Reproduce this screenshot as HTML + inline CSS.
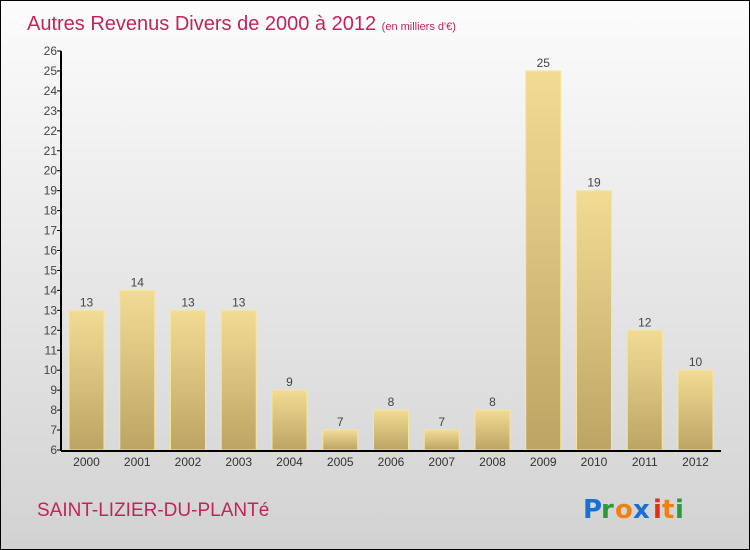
<!DOCTYPE html>
<html><head><meta charset="utf-8"><style>
html,body{margin:0;padding:0}
body{width:750px;height:550px;overflow:hidden;font-family:"Liberation Sans",sans-serif}
#wrap{position:relative;width:748px;height:548px;border:1px solid #000;background:linear-gradient(#fcfcfc,#d2d2d2)}
</style></head><body>
<div id="wrap">
<svg id="chart" width="748" height="548" style="position:absolute;left:0;top:0">
<defs><linearGradient id="bg" x1="0" y1="0" x2="0" y2="1"><stop offset="0" stop-color="#f2dc94"/><stop offset="1" stop-color="#bca564"/></linearGradient></defs>
<text x="26" y="29" font-size="20" fill="#c0245c">Autres Revenus Divers de 2000 à 2012 <tspan font-size="11">(en milliers d'€)</tspan></text>
<text x="36" y="515" font-size="19" fill="#c0245c">SAINT-LIZIER-DU-PLANTé</text>
<g font-size="26" font-weight="bold" font-family="'DejaVu Sans',sans-serif">
<text x="582" y="517" fill="#1a6fd0">P</text><text x="600" y="517" fill="#2a9a3a">r</text><text x="614" y="517" fill="#f08010">o</text><text x="632" y="517" fill="#1a6fd0">x</text><text x="652" y="517" fill="#e03010">i</text><text x="661" y="517" fill="#f08010">t</text><text x="674" y="517" fill="#2a9a3a">i</text></g>
<g id="plot"></g>
</svg>
</div>
<script>
const categories=["2000","2001","2002","2003","2004","2005","2006","2007","2008","2009","2010","2011","2012"];
const values=[13,14,13,13,9,7,8,7,8,25,19,12,10];
const yTicks=[6,7,8,9,10,11,12,13,14,15,16,17,18,19,20,21,22,23,24,25,26];
const NS="http://www.w3.org/2000/svg";
const plotG=document.getElementById('plot');
const yMin=6,yMax=26,plotTop=50,plotBot=449,axX=60;
const yS=v=>plotBot-(v-yMin)/(yMax-yMin)*(plotBot-plotTop);
const xS=i=>85.5+i*50.75;
function mk(t,a){const e=document.createElementNS(NS,t);for(const k in a)e.setAttribute(k,a[k]);plotG.appendChild(e);return e;}
values.forEach((v,i)=>{
 const r=mk('rect',{x:xS(i)-17.5,y:yS(v),width:35,height:plotBot-yS(v),fill:'url(#bg)',stroke:'#f6e69a','stroke-width':1});
 
 
 const t=mk('text',{x:xS(i),y:yS(v)-4,'text-anchor':'middle','font-size':12,fill:'#444'});t.textContent=v;
 
 
 const c=mk('text',{x:xS(i),y:plotBot+16,'text-anchor':'middle','font-size':12,fill:'#333'});c.textContent=categories[i];
 
 
});
yTicks.forEach(v=>{
 mk('line',{x1:axX-4,x2:axX,y1:yS(v),y2:yS(v),stroke:'#000'});
 const t=mk('text',{x:axX-4,y:yS(v)+4,'text-anchor':'end','font-size':12,fill:'#444'});t.textContent=v;
 
 
});
const ya=mk('line',{x1:axX,x2:axX,y1:plotTop,y2:plotBot+1,stroke:'#000','stroke-width':2});


const xa=mk('line',{x1:axX,x2:720,y1:plotBot+1,y2:plotBot+1,stroke:'#000','stroke-width':2});


</script>
</body></html>
